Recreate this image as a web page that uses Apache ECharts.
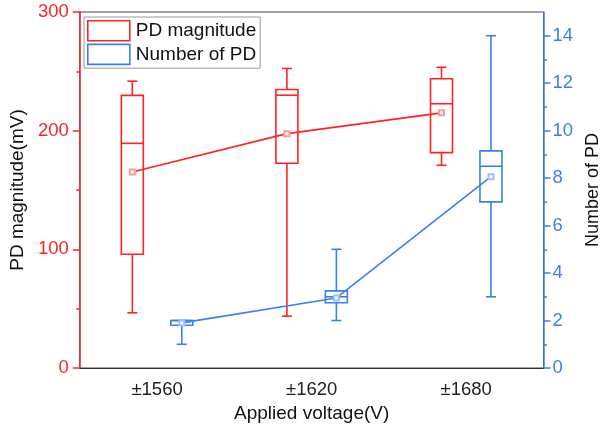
<!DOCTYPE html>
<html>
<head>
<meta charset="utf-8">
<script src="https://cdn.jsdelivr.net/npm/echarts@6/dist/echarts.min.js"></script>
<style>
html,body{margin:0;padding:0;background:#fff;}
#chart{width:610px;height:428px;}
</style>
</head>
<body>
<div id="chart"></div>
<script>
// ---- data ----
const categories = ['±1560', '±1620', '±1680'];
// PD magnitude (mV): min, Q1, median, Q3, max, mean
const magMin = [46.5, 43.7, 170.8];
const magQ1 = [95.8, 172.5, 181.5];
const magMed = [189.3, 229.9, 222.7];
const magQ3 = [229.7, 234.7, 243.7];
const magMax = [241.7, 252.4, 253.4];
const magMean = [165.2, 197.5, 215.0];
// Number of PD
const numMin = [1, 2, 3];
const numQ1 = [1.8, 2.75, 7];
const numMed = [2, 3, 8.5];
const numQ3 = [2, 3.25, 9.15];
const numMax = [2, 5, 14];
const numMean = [1.9, 2.95, 8.06];
// tick labels
const leftTicks = [0, 100, 200, 300];
const rightTicks = [0, 2, 4, 6, 8, 10, 12, 14];
const rightMinorTicks = [1, 3, 5, 7, 9, 11, 13];

// ---- style ----
const RED = '#ff2424';
const BLUE = '#3d7ff0';
const FONT = 'Liberation Sans, Arial, sans-serif';
const BOX_OFFSET = 0.16;   // fraction of category band
const BOX_HALF = 11;       // px
const CAP_HALF = 5;        // px
const LW = 1.6;

function boxData(mins, q1, med, q3, maxs) {
  return categories.map((c, i) => [i, mins[i], q1[i], med[i], q3[i], maxs[i]]);
}

function makeBoxRender(color, sign) {
  return function (params, api) {
    const cat = api.value(0);
    const band = api.size([1, 0])[0];
    const off = sign * BOX_OFFSET * band;
    const pMin = api.coord([cat, api.value(1)]);
    const pQ1 = api.coord([cat, api.value(2)]);
    const pMed = api.coord([cat, api.value(3)]);
    const pQ3 = api.coord([cat, api.value(4)]);
    const pMax = api.coord([cat, api.value(5)]);
    const cx = pMin[0] + off;
    const st = { stroke: color, lineWidth: LW, fill: null };
    const line = (x1, y1, x2, y2) => ({ type: 'line', shape: { x1, y1, x2, y2 }, style: st });
    return {
      type: 'group',
      children: [
        { type: 'rect', shape: { x: cx - BOX_HALF, y: pQ3[1], width: BOX_HALF * 2, height: pQ1[1] - pQ3[1] }, style: { stroke: color, lineWidth: LW, fill: 'rgba(0,0,0,0)' } },
        line(cx - BOX_HALF, pMed[1], cx + BOX_HALF, pMed[1]),
        line(cx, pQ1[1], cx, pMin[1]),
        line(cx, pQ3[1], cx, pMax[1]),
        line(cx - CAP_HALF, pMin[1], cx + CAP_HALF, pMin[1]),
        line(cx - CAP_HALF, pMax[1], cx + CAP_HALF, pMax[1])
      ]
    };
  };
}

const chart = echarts.init(document.getElementById('chart'), null, { renderer: 'canvas' });

chart.setOption({
  animation: false,
  textStyle: { fontFamily: FONT },
  grid: { left: 78, right: 64, top: 12, bottom: 59, show: true, borderColor: '#444', borderWidth: 1, backgroundColor: 'rgba(0,0,0,0)' },
  legend: {
    orient: 'vertical',
    left: 84, top: 17,
    padding: [3, 4, 3, 3],
    itemGap: 2,
    itemWidth: 42, itemHeight: 20,
    borderColor: '#999', borderWidth: 1,
    backgroundColor: '#fff',
    textStyle: { fontSize: 19, color: '#111', fontFamily: FONT, padding: [0, 0, 0, 1] },
    data: [
      { name: 'PD magnitude', icon: 'rect', itemStyle: { color: '#fff', borderColor: RED, borderWidth: 1.6 } },
      { name: 'Number of PD', icon: 'rect', itemStyle: { color: '#fff', borderColor: BLUE, borderWidth: 1.6 } }
    ]
  },
  xAxis: [
    {
      type: 'category', data: categories, boundaryGap: true,
      name: 'Applied voltage(V)', nameLocation: 'middle', nameGap: 36,
      nameTextStyle: { fontSize: 19, color: '#111', fontFamily: FONT },
      axisLine: { lineStyle: { color: '#333', width: 1 } },
      axisTick: { alignWithLabel: true, length: 6, lineStyle: { color: '#333' } },
      axisLabel: { fontSize: 18.5, color: '#222', margin: 12, fontFamily: FONT },
      splitLine: { show: false }
    },
    { type: 'value', min: 0, max: 3, show: false }
  ],
  yAxis: [
    {
      type: 'value', position: 'left', min: 0, max: 300, interval: 100,
      name: 'PD magnitude(mV)', nameLocation: 'middle', nameGap: 48, nameRotate: 90,
      nameTextStyle: { fontSize: 19, color: '#111', fontFamily: FONT },
      axisLine: { show: true, lineStyle: { color: RED, width: 1.5 } },
      axisTick: { show: true, inside: false, length: 7, lineStyle: { color: RED, width: 1.5 } },
      minorTick: { show: true, splitNumber: 2, length: 3.5, lineStyle: { color: RED, width: 1.5 } },
      axisLabel: { fontSize: 18.5, color: RED, margin: 11, fontFamily: FONT },
      splitLine: { show: false }
    },
    {
      type: 'value', position: 'right', min: 0, max: 15, interval: 2,
      name: 'Number of PD', nameLocation: 'middle', nameGap: 37, nameRotate: 90,
      nameTextStyle: { fontSize: 18, color: '#111', fontFamily: FONT },
      axisLine: { show: true, lineStyle: { color: BLUE, width: 1.5 } },
      axisTick: { show: true, inside: false, length: 7, customValues: rightTicks, lineStyle: { color: BLUE, width: 1.5 } },
      axisLabel: { fontSize: 18.5, color: BLUE, margin: 9, customValues: rightTicks, fontFamily: FONT },
      splitLine: { show: false }
    },
    {
      type: 'value', position: 'right', min: 0, max: 15,
      axisLine: { show: false },
      axisTick: { show: true, inside: false, length: 3.5, customValues: rightMinorTicks, lineStyle: { color: BLUE, width: 1.5 } },
      axisLabel: { show: false },
      splitLine: { show: false }
    }
  ],
  series: [
    {
      name: 'PD magnitude', type: 'custom', xAxisIndex: 0, yAxisIndex: 0,
      itemStyle: { color: RED },
      renderItem: makeBoxRender(RED, -1),
      encode: { x: 0, y: [1, 2, 3, 4, 5] },
      data: boxData(magMin, magQ1, magMed, magQ3, magMax), z: 2
    },
    {
      name: 'Number of PD', type: 'custom', xAxisIndex: 0, yAxisIndex: 1,
      itemStyle: { color: BLUE },
      renderItem: makeBoxRender(BLUE, 1),
      encode: { x: 0, y: [1, 2, 3, 4, 5] },
      data: boxData(numMin, numQ1, numMed, numQ3, numMax), z: 2
    },
    {
      name: 'PD magnitude mean', type: 'line', xAxisIndex: 1, yAxisIndex: 0,
      data: magMean.map((v, i) => [i + 0.5 - BOX_OFFSET, v]),
      symbol: 'emptyRect', symbolSize: 5, showSymbol: true,
      lineStyle: { color: RED, width: 1.6 },
      itemStyle: { color: '#ff9a9a', borderWidth: 0.8 }, z: 3
    },
    {
      name: 'Number of PD mean', type: 'line', xAxisIndex: 1, yAxisIndex: 1,
      data: numMean.map((v, i) => [i + 0.5 + BOX_OFFSET, v]),
      symbol: 'emptyRect', symbolSize: 5, showSymbol: true,
      lineStyle: { color: BLUE, width: 1.6 },
      itemStyle: { color: '#9dbff7', borderWidth: 0.8 }, z: 3
    }
  ]
});
</script>
</body>
</html>
